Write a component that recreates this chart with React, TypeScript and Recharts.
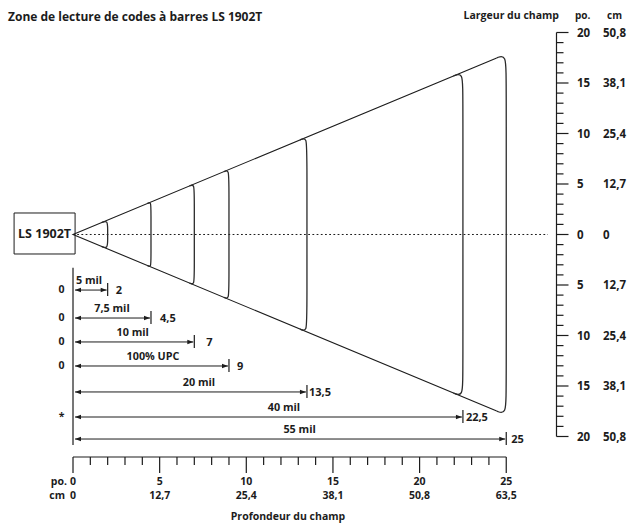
import React from 'react';
import { LineChart, Line, XAxis, YAxis, ReferenceLine, ReferenceArea } from 'recharts';

const FONT = '"Open Sans", "DejaVu Sans", sans-serif';
const INK = '#1c1c1c';

// bottom scale: depth of field (po.) with cm equivalents
const DEPTH_TICKS = Array.from({ length: 26 }, (_, i) => i);
const DEPTH_MAJOR = [0, 5, 10, 15, 20, 25];
const DEPTH_CM = ['0', '12,7', '25,4', '38,1', '50,8', '63,5'];

// right scale: width of field (po.) on each side of the beam axis
const WIDTH_TICKS = Array.from({ length: 41 }, (_, i) => 20 - i);
const WIDTH_MAJOR = [20, 15, 10, 5, 0];
const WIDTH_CM = ['50,8', '38,1', '25,4', '12,7', '0'];

// bar code densities and their read range (po.)
const ZONE_NAMES = ['5 mil', '7,5 mil', '10 mil', '100% UPC', '20 mil', '40 mil', '55 mil'];
const ZONE_NEAR = ['0', '0', '0', '0', '', '*', ''];
const ZONE_FAR = [2, 4.5, 7, 9, 13.5, 22.5, 25];
const ZONE_FAR_TEXT = ['2', '4,5', '7', '9', '13,5', '22,5', '25'];

// scan cone: half-width grows with depth
const CONE_SLOPE = 0.715;
const CONE_END = 24.45;
// depth where each zone outline leaves the cone edge, and how far its corner drops
const ZONE_EDGE_DEPTH = [1.65, 4.3, 6.72, 8.7, 13.1, 21.95, 24.45];
const ZONE_BEND = [0.75, 0.6, 1.0, 1.2, 1.5, 1.8, 2.2];

// layout: vertical level (in width units) of each dimension row
const ROW_LEVEL = [-5.5, -8.27, -10.64, -13.02, -15.59, -18.07, -20.25];
const END_GAP = [8, 9, 12, 8, 2, 3, 5];
const NAME_SHIFT = [0, 0, -1, 2, 9, 16, 10];

const X_DOMAIN: [number, number] = [-3.5, 27.9];
const Y_DOMAIN: [number, number] = [-22.03, 20];

const coneData = [
  { d: CONE_END, w: CONE_SLOPE * CONE_END },
  { d: 0, w: 0 },
  { d: CONE_END, w: -CONE_SLOPE * CONE_END },
];

const zoneData = ZONE_FAR.map((d, i) => {
  const e = ZONE_EDGE_DEPTH[i];
  const w = CONE_SLOPE * e;
  const lift = CONE_SLOPE * d;
  const b = w - ZONE_BEND[i];
  return [
    { d: e, w },
    { d, w: lift },
    { d, w: b },
    { d, w: -b },
    { d, w: -lift },
    { d: e, w: -w },
  ];
});

const txt = { fontFamily: FONT, fontWeight: 700, fill: INK } as const;

const DepthTick = (props: any) => {
  const { x, y, payload } = props;
  const v = payload.value;
  const idx = DEPTH_MAJOR.indexOf(v);
  const major = idx >= 0;
  return (
    <g>
      <line x1={x} x2={x} y1={y} y2={y + (major ? 16 : 8)} stroke={INK} strokeWidth={1.2} />
      {major && (
        <text x={x} y={y + 28} textAnchor="middle" fontSize={10.5} {...txt}>
          {v}
        </text>
      )}
      {major && (
        <text x={x} y={y + 42} textAnchor="middle" fontSize={10.5} {...txt}>
          {DEPTH_CM[idx]}
        </text>
      )}
    </g>
  );
};

const WidthTick = (props: any) => {
  const { x, y, payload } = props;
  const v = payload.value;
  const idx = WIDTH_MAJOR.indexOf(Math.abs(v));
  const major = idx >= 0;
  return (
    <g>
      <line x1={x} x2={x + (major ? 12 : 7)} y1={y} y2={y} stroke={INK} strokeWidth={1.2} />
      {major && (
        <text x={x + 20.5} y={y + 4.5} fontSize={11.5} {...txt}>
          {Math.abs(v)}
        </text>
      )}
      {major && (
        <text x={x + 46.5} y={y + 4.5} fontSize={11.5} {...txt}>
          {WIDTH_CM[idx]}
        </text>
      )}
    </g>
  );
};

const dimShape = (i: number) => (p: any) => {
  const { x1, x2, y1 } = p;
  const y = y1;
  const a = x1 + 2;
  const b = x2 - 1;
  return (
    <g>
      <line x1={a} x2={b} y1={y} y2={y} stroke={INK} strokeWidth={1} />
      <path d={`M${a},${y}L${a + 6},${y - 2.3}L${a + 6},${y + 2.3}Z`} fill={INK} />
      <path d={`M${b},${y}L${b - 6},${y - 2.3}L${b - 6},${y + 2.3}Z`} fill={INK} />
      <line x1={x2} x2={x2} y1={y - 7} y2={y + 6} stroke={INK} strokeWidth={1.2} />
      <text x={x2 + END_GAP[i]} y={y + 4} fontSize={11} {...txt}>
        {ZONE_FAR_TEXT[i]}
      </text>
      <text
        x={i === 0 ? x1 + 3 : (x1 + x2) / 2 + NAME_SHIFT[i]}
        y={y - 6}
        textAnchor={i === 0 ? 'start' : 'middle'}
        fontSize={10.8}
        {...txt}
      >
        {ZONE_NAMES[i]}
      </text>
      {ZONE_NEAR[i] && (
        <text x={x1 - 11.5} y={y + 3} textAnchor="middle" fontSize={10.5} {...txt}>
          {ZONE_NEAR[i]}
        </text>
      )}
    </g>
  );
};

export default function App() {
  return (
    <div style={{ position: 'relative', width: 632, height: 523, background: '#fff' }}>
      <style>{'body{margin:0}'}</style>
      <LineChart
        width={632}
        height={523}
        margin={{ top: 32.5, right: 15.5, bottom: 36, left: 12.35 }}
      >
        <XAxis
          dataKey="d"
          type="number"
          domain={X_DOMAIN}
          allowDataOverflow
          ticks={DEPTH_TICKS}
          interval={0}
          axisLine={false}
          tickLine={false}
          tickSize={0}
          tickMargin={0}
          height={30}
          tick={<DepthTick />}
        />
        <YAxis
          orientation="right"
          type="number"
          domain={Y_DOMAIN}
          allowDataOverflow
          ticks={WIDTH_TICKS}
          interval={0}
          axisLine={false}
          tickLine={false}
          tickSize={0}
          tickMargin={0}
          width={60}
          tick={<WidthTick />}
        />
        <ReferenceArea
          x1={-3.4}
          x2={0.12}
          y1={-1.93}
          y2={2.13}
          fill="#fff"
          fillOpacity={1}
          stroke={INK}
          strokeWidth={1}
          ifOverflow="visible"
          label={{ value: 'LS 1902T', position: 'center', fill: INK, fontSize: 12.5, fontWeight: 700, fontFamily: FONT }}
        />
        <ReferenceLine
          segment={[{ x: 0, y: 0 }, { x: 27.41, y: 0 }]}
          stroke={INK}
          strokeWidth={1}
          strokeDasharray="1.8 2.4"
          ifOverflow="visible"
        />
        <ReferenceLine
          segment={[{ x: 0, y: -3.3 }, { x: 0, y: -20.85 }]}
          stroke={INK}
          strokeWidth={1.2}
          ifOverflow="visible"
        />
        <ReferenceLine
          segment={[{ x: 0, y: Y_DOMAIN[0] }, { x: 25, y: Y_DOMAIN[0] }]}
          stroke={INK}
          strokeWidth={1.2}
          ifOverflow="visible"
        />
        <ReferenceLine
          segment={[{ x: X_DOMAIN[1], y: 20 }, { x: X_DOMAIN[1], y: -20 }]}
          stroke={INK}
          strokeWidth={1.2}
          ifOverflow="visible"
        />
        {ZONE_FAR.map((d, i) => (
          <ReferenceLine
            key={`dim-${i}`}
            segment={[{ x: 0, y: ROW_LEVEL[i] }, { x: d, y: ROW_LEVEL[i] }]}
            ifOverflow="visible"
            shape={dimShape(i)}
          />
        ))}
        <Line
          data={coneData}
          dataKey="w"
          type="linear"
          stroke={INK}
          strokeWidth={1.1}
          dot={false}
          activeDot={false}
          isAnimationActive={false}
        />
        {zoneData.map((pts, i) => (
          <Line
            key={`zone-${i}`}
            data={pts}
            dataKey="w"
            type="basis"
            stroke="#2a2a2a"
            strokeWidth={1.3}
            dot={false}
            activeDot={false}
            isAnimationActive={false}
          />
        ))}
      </LineChart>
      <svg
        width={632}
        height={523}
        style={{ position: 'absolute', left: 0, top: 0, pointerEvents: 'none' }}
      >
        <text x={8} y={20.5} fontSize={12} {...txt}>
          Zone de lecture de codes à barres LS 1902T
        </text>
        <text x={559} y={19} textAnchor="end" fontSize={10.5} {...txt}>
          Largeur du champ
        </text>
        <text x={575} y={19} fontSize={10} {...txt}>
          po.
        </text>
        <text x={607} y={19} fontSize={10} {...txt}>
          cm
        </text>
        <text x={67} y={485} textAnchor="end" fontSize={10.5} {...txt}>
          po.
        </text>
        <text x={65} y={499} textAnchor="end" fontSize={10.5} {...txt}>
          cm
        </text>
        <text x={288} y={519.5} textAnchor="middle" fontSize={10.5} {...txt}>
          Profondeur du champ
        </text>
      </svg>
    </div>
  );
}
